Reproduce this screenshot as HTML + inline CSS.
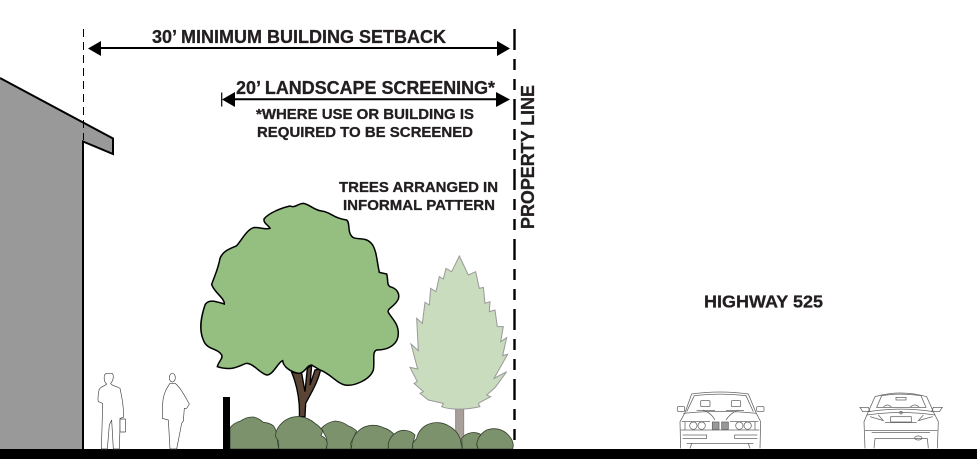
<!DOCTYPE html>
<html><head><meta charset="utf-8"><style>
html,body{margin:0;padding:0;background:#fff}
svg{display:block}
text{font-family:"Liberation Sans",sans-serif;font-weight:bold;fill:#231f20;stroke:#231f20;stroke-width:.3}
</style></head><body>
<svg width="977" height="466" viewBox="0 0 977 466" xmlns="http://www.w3.org/2000/svg">
<rect width="977" height="466" fill="#fff"/>
<!-- building -->
<polygon points="0,78 113,138.5 113,154 83,141.5 83,450 0,450" fill="#999"/>
<polyline points="0,78 113,138.5 113,154 83,141.5 83,450" fill="none" stroke="#000" stroke-width="2"/>
<line x1="83.5" y1="29" x2="83.5" y2="140" stroke="#000" stroke-width="1" stroke-dasharray="8 5"/>
<!-- dimension arrows -->
<line x1="100" y1="48" x2="498" y2="48" stroke="#000" stroke-width="2"/>
<polygon points="88,48.5 101,41 101,56" fill="#000"/>
<polygon points="510,48.5 497,41 497,56" fill="#000"/>
<line x1="232" y1="99.3" x2="498" y2="99.3" stroke="#000" stroke-width="2"/>
<line x1="221.7" y1="92.5" x2="221.7" y2="106.5" stroke="#000" stroke-width="1.2"/>
<polygon points="222,99.5 235,92 235,107" fill="#000"/>
<polygon points="510,99.5 496,92 496,107" fill="#000"/>
<!-- property line -->
<line x1="514.5" y1="29" x2="514.5" y2="442" stroke="#000" stroke-width="2.4" stroke-dasharray="21 9 11 9 11 9"/>
<!-- labels -->
<text x="152" y="43" font-size="18" textLength="294" lengthAdjust="spacingAndGlyphs">30’ MINIMUM BUILDING SETBACK</text>
<text x="236" y="94" font-size="18" textLength="259" lengthAdjust="spacingAndGlyphs">20’ LANDSCAPE SCREENING*</text>
<text x="256" y="119" font-size="14.5" textLength="218" lengthAdjust="spacingAndGlyphs">*WHERE USE OR BUILDING IS</text>
<text x="257" y="137" font-size="14.5" textLength="216" lengthAdjust="spacingAndGlyphs">REQUIRED TO BE SCREENED</text>
<text x="339" y="192" font-size="14.5" textLength="159" lengthAdjust="spacingAndGlyphs">TREES ARRANGED IN</text>
<text x="343" y="210" font-size="14.5" textLength="152" lengthAdjust="spacingAndGlyphs">INFORMAL PATTERN</text>
<text x="704" y="307.500" font-size="17.500" textLength="119" lengthAdjust="spacingAndGlyphs">HIGHWAY 525</text>
<text transform="translate(534,229) rotate(-90)" font-size="18" textLength="144" lengthAdjust="spacingAndGlyphs">PROPERTY LINE</text>
<!-- trees -->
<g transform="translate(190,195) scale(.33333)">
<path d="M328,665 C330,630 325,580 305,532 L335,535 L345,590 L352,520 L365,512 L360,570 L375,525 L392,522 C385,560 360,600 347,625 L345,665Z" fill="#5a4436" stroke="#000" stroke-width="4"/>
<path d="M340,25 C360,28 370,45 395,48 C420,50 430,70 470,75 C482,85 470,115 490,128 C510,135 530,125 548,150 C560,170 560,195 568,232 L590,237 C595,255 590,270 600,275 C620,280 630,295 625,312 C615,335 590,340 595,352 C605,370 625,385 625,415 C625,445 600,465 560,465 C545,470 555,500 550,525 C540,555 490,575 465,570 C440,565 420,535 390,525 L365,510 C350,510 345,535 325,535 C300,530 280,515 278,497 C265,500 250,540 230,540 C210,535 190,505 170,505 C150,510 130,530 82,515 C85,500 100,490 95,480 C85,460 50,465 40,435 C25,400 35,360 45,330 C55,310 80,320 103,327 C105,310 70,290 65,268 C75,240 85,220 90,190 C100,165 125,160 140,152 C155,135 170,105 190,98 C205,95 225,105 240,100 C235,90 220,85 222,72 C235,55 270,40 300,33 C315,40 325,25 340,25Z" fill="#94bf81" stroke="#000" stroke-width="4.5"/>
<rect x="797" y="635" width="24" height="105" fill="#a89f9b" stroke="#8a8a8a" stroke-width="3"/>
<path d="M808,183 L835,240 L857,230 L868,280 L880,277 L885,325 L900,320 L898,350 L915,345 L922,395 L940,395 L932,440 L950,428 L938,482 L953,478 L912,550 L950,530 L915,578 L890,600 L902,605 L865,625 L870,635 C830,645 780,645 755,635 L760,625 L715,615 L690,595 L700,590 L672,565 L682,560 L660,517 L683,522 L663,447 L685,467 L680,370 L697,385 L705,322 L718,330 L722,280 L738,290 L748,245 L760,252 L768,220 L785,230Z" fill="#c9dcbd" stroke="#999" stroke-width="3"/>
</g>
<!-- shrubs -->
<g transform="translate(220,395) scale(.33333)" fill="#7c926c" stroke="#36422f" stroke-width="2.5">
<path d="M30,162 L30,98 A60 60 0 0 1 62,78 A60 60 0 0 1 100,66 A60 60 0 0 1 130,82 A60 60 0 0 1 160,92 A70 70 0 0 1 172,135 L176,162Z"/>
<path d="M320,162 L320,130 L304,100 A70 70 0 0 1 345,78 A70 70 0 0 1 385,93 A70 70 0 0 1 410,108 L392,145 L394,162Z"/>
<path d="M394,162 L396,140 A70 70 0 0 1 425,100 A70 70 0 0 1 490,98 A70 70 0 0 1 522,118 L505,145 L505,162Z"/>
<path d="M505,162 L505,145 A50 50 0 0 1 530,112 A45 45 0 0 1 585,120 L578,150 L578,162Z"/>
<path d="M176,162 L176,140 L166,124 A60 60 0 0 1 180,90 A70 70 0 0 1 240,65 A80 80 0 0 1 285,85 A70 70 0 0 1 308,108 L303,122 A30 30 0 0 1 322,145 L318,162Z"/>
<path d="M727,162 L725,130 A45 45 0 0 1 785,120 L770,150 L775,162Z"/>
<path d="M578,162 L578,145 L590,130 A60 60 0 0 1 620,90 A70 70 0 0 1 690,95 A70 70 0 0 1 720,130 L727,162Z"/>
<path d="M775,162 L770,148 A60 60 0 0 1 800,105 A60 60 0 0 1 865,120 A50 50 0 0 1 880,150 L878,162Z"/>
</g>
<!-- pole and ground -->
<rect x="223" y="397" width="7" height="53" fill="#000"/>
<rect x="0" y="449" width="977" height="10" fill="#000"/>
<!-- people -->
<g transform="translate(70,360) scale(.33333)" fill="#fff" stroke="#444" stroke-width="2">
<path d="M110,40 C100,42 100,65 110,72 C105,78 90,80 87,90 C85,105 82,115 85,125 L98,130 L97,170 L94,267 L112,267 L118,195 L125,180 L130,267 L148,267 L150,200 L150,175 L160,172 C162,140 155,110 150,85 C140,78 125,78 122,70 C132,60 132,42 125,40Z"/>
<rect x="150" y="177" width="17" height="39" rx="2"/>
<ellipse cx="307" cy="53" rx="9" ry="13"/>
<path d="M300,70 C290,85 280,100 278,130 L277,175 L295,180 L300,267 L320,267 L335,190 L340,183 L343,145 L350,145 L358,132 C345,110 330,80 315,70Z"/>
</g>
<!-- car 1 -->
<g transform="translate(660,380) scale(.33333)" fill="none" stroke="#666" stroke-width="2.300">
<path d="M62,205 L60,125 L75,98 L95,42 Q180,30 265,42 L288,98 L302,125 L300,205"/>
<path d="M80,95 L103,47 Q180,38 258,47 L280,95"/>
<rect x="52" y="80" width="22" height="14" rx="3"/><rect x="290" y="80" width="22" height="14" rx="3"/>
<rect x="122" y="62" width="28" height="18" rx="3"/><rect x="214" y="62" width="28" height="18" rx="3"/>
<path d="M110,92 H165 M198,92 H252 M70,100 Q180,88 290,100 M130,90 Q155,100 165,120 M235,90 Q210,100 198,120"/>
<circle cx="100" cy="137" r="11"/><circle cx="125" cy="137" r="11"/><circle cx="238" cy="137" r="11"/><circle cx="263" cy="137" r="11"/>
<path d="M65,125 H150 M210,125 H295 M62,150 H298 M68,165 H140 V175 H68 M292,165 H224 V175 H292 M80,190 H280 M95,190 L90,205 M265,190 L270,205 M75,125 V150 M285,125 V150"/>
<rect x="157" y="126" width="20" height="22" fill="#999"/><rect x="185" y="126" width="20" height="22" fill="#999"/>
</g>
<!-- car 2 -->
<g transform="translate(850,380) scale(.33333)" fill="none" stroke="#666" stroke-width="2.300">
<path d="M45,205 L42,125 L55,95 L75,50 Q150,28 230,50 L250,95 L265,125 L262,205"/>
<path d="M80,82 L95,47 Q150,38 213,47 L228,82 Z"/>
<path d="M30,82 H55 L60,95 H38 Z M277,82 H250 L245,95 H268Z"/>
<path d="M100,82 Q112,68 125,82 M180,82 Q195,68 208,82 M138,52 H168 V60 H138Z"/>
<path d="M55,95 Q150,80 250,95 M50,105 Q150,90 255,105 M60,110 L100,122 L85,105 M248,110 L205,122 L220,105"/>
<rect x="122" y="110" width="62" height="16"/>
<path d="M45,152 H262 M65,157 H240 M75,175 H232 M75,175 L72,205 M232,175 L235,205 M105,128 H200"/>
<circle cx="153" cy="98" r="4"/><ellipse cx="205" cy="174" rx="11" ry="6"/>
</g>
</svg>
</body></html>
